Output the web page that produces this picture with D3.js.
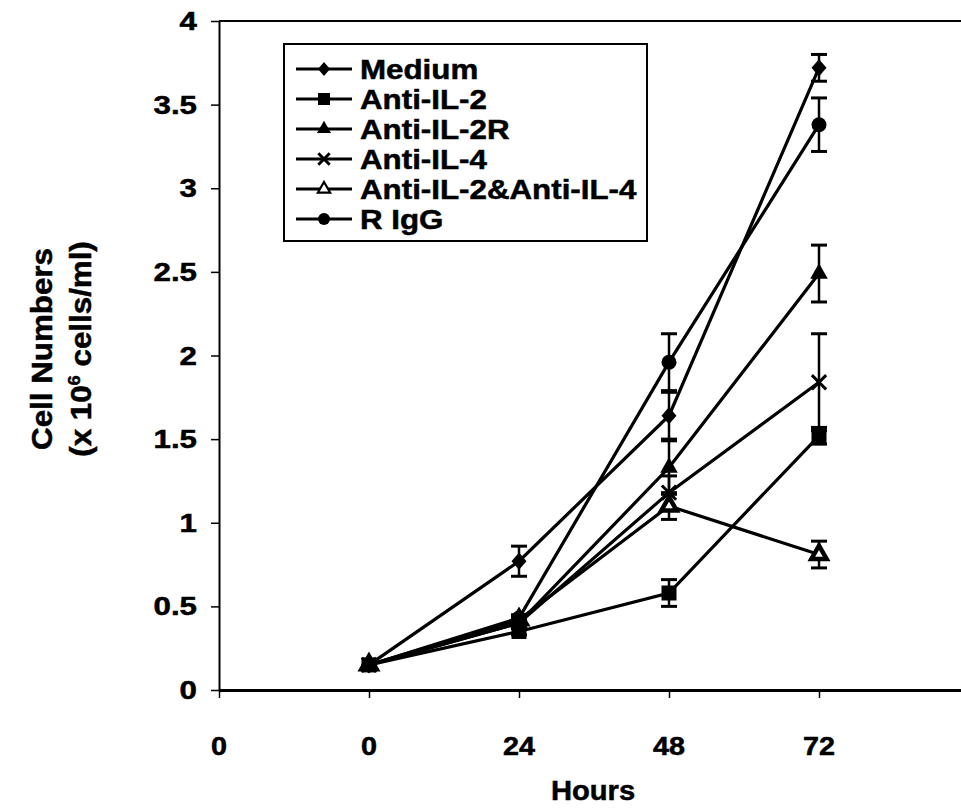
<!DOCTYPE html>
<html>
<head>
<meta charset="utf-8">
<script src="https://cdn.jsdelivr.net/npm/d3@7"></script>
<style>
  body { margin: 0; background: #fff; }
  text { font-family: "Liberation Sans", Arial, sans-serif; font-weight: bold; fill: #000; stroke: #000; stroke-width: 0.5px; }
</style>
</head>
<body>
<div id="chart"></div>
<script>
// hours on the x axis, the first "0" tick sits on the y axis
var hours = [0, 24, 48, 72];
var xTicks = [-24, 0, 24, 48, 72];
var xTickLabels = ["0", "0", "24", "48", "72"];
var yTicks = [0, 0.5, 1, 1.5, 2, 2.5, 3, 3.5, 4];

var seriesNames = ["Medium", "Anti-IL-2", "Anti-IL-2R", "Anti-IL-4", "Anti-IL-2&Anti-IL-4", "R IgG"];
var seriesMarkers = ["diamond", "square", "triangle", "cross", "triangleOpen", "circle"];

var medium = [0.15, 0.77, 1.64, 3.72];
var mediumErr = [0, 0.09, 0.14, 0.08];
var antiIL2 = [0.15, 0.35, 0.58, 1.52];
var antiIL2Err = [0, 0.02, 0.08, 0.05];
var antiIL2R = [0.15, 0.40, 1.33, 2.49];
var antiIL2RErr = [0, 0.02, 0.16, 0.17];
var antiIL4 = [0.15, 0.40, 1.18, 1.84];
var antiIL4Err = [0, 0.02, 0.10, 0.29];
var antiIL2IL4 = [0.15, 0.42, 1.10, 0.81];
var antiIL2IL4Err = [0, 0.02, 0.08, 0.08];
var rIgG = [0.15, 0.43, 1.96, 3.38];
var rIgGErr = [0, 0.02, 0.17, 0.16];

var seriesValues = [medium, antiIL2, antiIL2R, antiIL4, antiIL2IL4, rIgG];
var seriesErrors = [mediumErr, antiIL2Err, antiIL2RErr, antiIL4Err, antiIL2IL4Err, rIgGErr];

document.addEventListener('DOMContentLoaded', function() {
  var width = 961, height = 809;

  var svg = d3.select("#chart")
    .append("svg")
    .attr("width", width)
    .attr("height", height);

  var x = d3.scaleLinear().domain([-24, 96]).range([219, 969]);
  var y = d3.scaleLinear().domain([0, 4]).range([690, 21]);

  // the scan's lettering is a bit wider than Arial, so stretch it sideways
  function wideText(parent, tx, ty, str, size, stretch, anchor) {
    return parent.append("text")
      .attr("transform", "translate(" + tx + "," + ty + ") scale(" + stretch + ",1)")
      .attr("text-anchor", anchor || "start")
      .style("font-size", size + "px")
      .text(str);
  }

  // top frame line
  svg.append("line")
    .attr("x1", x(-24)).attr("x2", width)
    .attr("y1", y(4)).attr("y2", y(4))
    .attr("stroke", "#000").attr("stroke-width", 2);

  var yAxis = svg.append("g")
    .attr("transform", "translate(" + x(-24) + ",0)")
    .call(d3.axisLeft(y).tickValues(yTicks).tickSize(8).tickSizeOuter(0).tickFormat(""));
  yAxis.select(".domain").attr("stroke-width", 2);
  yAxis.selectAll(".tick line").attr("stroke-width", 1.5);
  yTicks.forEach(function(v) {
    wideText(svg, x(-24) - 22, y(v) + 9, d3.format("")(v), 25, 1.25, "end");
  });

  var xAxis = svg.append("g")
    .attr("transform", "translate(0," + y(0) + ")")
    .call(d3.axisBottom(x).tickValues(xTicks).tickSize(8).tickSizeOuter(0).tickFormat(""));
  xAxis.select(".domain").attr("stroke-width", 3);
  xAxis.selectAll(".tick line").attr("stroke-width", 1.5);
  xTicks.forEach(function(v, i) {
    wideText(svg, x(v), 755, xTickLabels[i], 25, 1.15, "middle");
  });

  wideText(svg, 593, 800, "Hours", 27, 1.08, "middle");

  var yTitle = svg.append("g").attr("transform", "translate(0,349) rotate(-90)");
  wideText(yTitle, 0, 52, "Cell Numbers", 29, 1.08, "middle");
  var t2 = wideText(yTitle, 0, 91, "", 29, 1.08, "middle");
  t2.append("tspan").text("(x 10");
  t2.append("tspan").attr("dy", -11).style("font-size", "17px").text("6");
  t2.append("tspan").attr("dy", 11).text(" cells/ml)");

  function marker(g, type, size) {
    var h = size / 2;
    if (type == "diamond") {
      g.append("path")
        .attr("d", "M0," + (-h * 1.15) + "L" + h + ",0L0," + (h * 1.15) + "L" + (-h) + ",0Z")
        .attr("fill", "#000");
    } else if (type == "square") {
      g.append("rect").attr("x", -h).attr("y", -h).attr("width", size).attr("height", size).attr("fill", "#000");
    } else if (type == "triangle") {
      g.append("path").attr("d", d3.symbol(d3.symbolTriangle, size * size * 0.6)()).attr("fill", "#000");
    } else if (type == "triangleOpen") {
      g.append("path").attr("d", d3.symbol(d3.symbolTriangle, size * size * 0.45)())
        .attr("fill", "#fff").attr("stroke", "#000").attr("stroke-width", size > 12 ? 4.5 : 2.2);
    } else if (type == "cross") {
      g.append("path").attr("d", d3.symbol(d3.symbolX, size * size * 0.6)())
        .attr("fill", "none").attr("stroke", "#000").attr("stroke-width", 3);
    } else if (type == "circle") {
      g.append("circle").attr("r", h).attr("fill", "#000");
    }
  }

  var line = d3.line()
    .x(function(d, i) { return x(hours[i]); })
    .y(function(d) { return y(d); });

  var plot = svg.append("g");

  seriesValues.forEach(function(vals, s) {
    plot.append("path")
      .datum(vals)
      .attr("d", line)
      .attr("fill", "none")
      .attr("stroke", "#000")
      .attr("stroke-width", 3.2);
  });

  // error bars
  seriesValues.forEach(function(vals, s) {
    vals.forEach(function(v, i) {
      var e = seriesErrors[s][i];
      if (!e) return;
      var cx = x(hours[i]);
      var g = plot.append("g").attr("stroke", "#000").attr("stroke-width", 2.5);
      g.append("line").attr("x1", cx).attr("x2", cx).attr("y1", y(v - e)).attr("y2", y(v + e));
      g.append("line").attr("x1", cx - 8).attr("x2", cx + 8).attr("y1", y(v - e)).attr("y2", y(v - e)).attr("stroke-width", 3);
      g.append("line").attr("x1", cx - 8).attr("x2", cx + 8).attr("y1", y(v + e)).attr("y2", y(v + e)).attr("stroke-width", 3);
    });
  });

  seriesValues.forEach(function(vals, s) {
    vals.forEach(function(v, i) {
      var g = plot.append("g").attr("transform", "translate(" + x(hours[i]) + "," + y(v) + ")");
      marker(g, seriesMarkers[s], 15);
    });
  });

  // legend
  var legend = svg.append("g");
  legend.append("rect")
    .attr("x", 284).attr("y", 44)
    .attr("width", 363).attr("height", 197)
    .attr("fill", "#fff").attr("stroke", "#000").attr("stroke-width", 2);

  seriesNames.forEach(function(name, i) {
    var ly = 69 + i * 30;
    legend.append("line")
      .attr("x1", 296).attr("x2", 352)
      .attr("y1", ly).attr("y2", ly)
      .attr("stroke", "#000").attr("stroke-width", 3);
    var g = legend.append("g").attr("transform", "translate(324," + ly + ")");
    marker(g, seriesMarkers[i], 12);
    wideText(legend, 360, ly + 10, name, 27, 1.16, "start");
  });
});
</script>
</body>
</html>
